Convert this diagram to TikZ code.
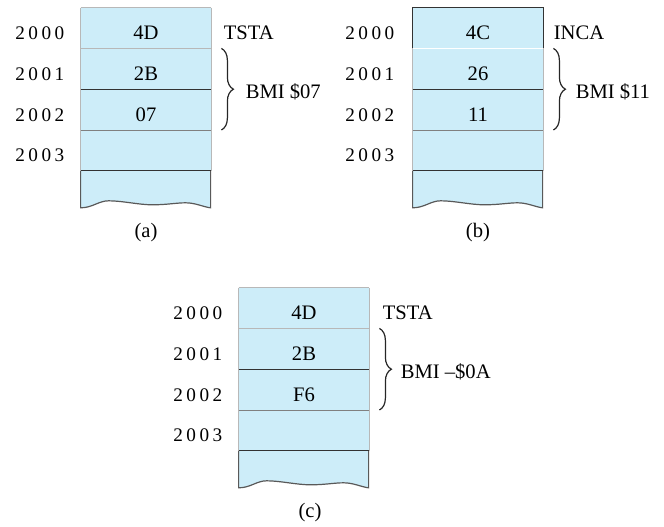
\documentclass[tikz,border=0pt]{standalone}
\usepackage{fontspec}
\setmainfont{Liberation Serif}
\newfontfamily\addrfont[LetterSpace=18]{Liberation Serif}
\usetikzlibrary{positioning,calc,decorations.pathreplacing}
\definecolor{memfill}{RGB}{205,237,249}

\begin{document}
\begin{tikzpicture}[
    x=0.5pt, y=-0.5pt,
    cell/.style={fill=memfill, minimum width=65pt, minimum height=20pt, inner sep=0pt,
                 font=\fontsize{10.3}{12}\selectfont, text height=11.5pt, text depth=0pt},
    addr/.style={inner sep=0pt, font=\addrfont\fontsize{9.6}{11}\selectfont,
                 text height=11.5pt, text depth=0pt},
    txt/.style={inner sep=0pt, font=\fontsize{10.3}{12}\selectfont,
                text height=11.5pt, text depth=0pt},
    faint/.style={draw=black!28, line width=0.5pt},
    mid/.style={draw=black!50, line width=0.5pt},
    dark/.style={draw=black!80, line width=0.6pt},
    brace/.style={draw=black!85, line width=0.6pt, decorate,
                  decoration={brace, amplitude=6pt}},
    memtail/.pic={
      \fill[memfill] (0,0) -- (0,37) .. controls (12,37) and (18,30) .. (28,30)
            .. controls (42,30) and (58,34) .. (72,34)
            .. controls (86,34) and (96,32) .. (105,32)
            .. controls (115,32) and (122,36) .. (130,37) -- (130,0) -- cycle;
      \draw[black!65, line width=0.6pt] (0,0) -- (0,37) .. controls (12,37) and (18,30) .. (28,30)
            .. controls (42,30) and (58,34) .. (72,34)
            .. controls (86,34) and (96,32) .. (105,32)
            .. controls (115,32) and (122,36) .. (130,37) -- (130,0);
    },
  ]
    \useasboundingbox (0,0) rectangle (664,526);

    % ---- (a) ----
    \node[cell] (a0) at (146,28) {4D};
    \node[cell, below=0pt of a0] (a1) {2B};
    \node[cell, below=0pt of a1] (a2) {07};
    \node[cell, below=0pt of a2] (a3) {};
    \pic at (a3.south west) {memtail};
    \draw[faint] (a0.north west) -- (a0.north east) (a0.south west) -- (a0.south east);
    \draw[faint] (a0.north west) -- (a3.south west) (a0.north east) -- (a3.south east);
    \draw[dark] (a1.south west) -- (a1.south east) (a3.south west) -- (a3.south east);
    \draw[mid] (a2.south west) -- (a2.south east);
    \node[addr, left=8pt of a0] (ad0) {2000};
    \node[addr, left=8pt of a1] (ad1) {2001};
    \node[addr, left=8pt of a2] (ad2) {2002};
    \node[addr, left=8pt of a3] (ad3) {2003};
    \node[txt, right=6pt of a0] (opa) {TSTA};
    \draw[brace] ([xshift=5pt]a1.north east) -- ([xshift=5pt]a2.south east);
    \node[txt, anchor=west] (bmia) at ([xshift=17pt, yshift=1.3pt]a1.south east) {BMI \$07};
    \node[txt] (capa) at ([yshift=-27.5pt]a3.south) {(a)};

    % ---- (b) ----
    \node[cell] (b0) at (478,28) {4C};
    \node[cell, below=0pt of b0] (b1) {26};
    \node[cell, below=0pt of b1] (b2) {11};
    \node[cell, below=0pt of b2] (b3) {};
    \pic at (b3.south west) {memtail};
    \draw[faint] (b0.south west) -- (b3.south west) (b0.south east) -- (b3.south east);
    \draw[dark] (b0.south west) -- (b0.north west) -- (b0.north east) -- (b0.south east);
    \draw[dark] (b1.south west) -- (b1.south east) (b3.south west) -- (b3.south east);
    \draw[mid] (b2.south west) -- (b2.south east);
    \node[addr, left=9pt of b0] (bd0) {2000};
    \node[addr, left=9pt of b1] (bd1) {2001};
    \node[addr, left=9pt of b2] (bd2) {2002};
    \node[addr, left=9pt of b3] (bd3) {2003};
    \node[txt, right=5pt of b0] (opb) {INCA};
    \draw[brace] ([xshift=5pt]b1.north east) -- ([xshift=5pt]b2.south east);
    \node[txt, anchor=west] (bmib) at ([xshift=16pt, yshift=1.3pt]b1.south east) {BMI \$11};
    \node[txt] (capb) at ([yshift=-27.5pt]b3.south) {(b)};

    % ---- (c) ----
    \node[cell] (c0) at (304,308) {4D};
    \node[cell, below=0pt of c0] (c1) {2B};
    \node[cell, below=0pt of c1] (c2) {F6};
    \node[cell, below=0pt of c2] (c3) {};
    \pic at (c3.south west) {memtail};
    \draw[faint] (c0.north west) -- (c0.north east) (c0.south west) -- (c0.south east);
    \draw[faint] (c0.north west) -- (c3.south west) (c0.north east) -- (c3.south east);
    \draw[dark] (c1.south west) -- (c1.south east) (c3.south west) -- (c3.south east);
    \draw[mid] (c2.south west) -- (c2.south east);
    \node[addr, left=8pt of c0] (cd0) {2000};
    \node[addr, left=8pt of c1] (cd1) {2001};
    \node[addr, left=8pt of c2] (cd2) {2002};
    \node[addr, left=8pt of c3] (cd3) {2003};
    \node[txt, right=6.5pt of c0] (opc) {TSTA};
    \draw[brace] ([xshift=5pt]c1.north east) -- ([xshift=5pt]c2.south east);
    \node[txt, anchor=west] (bmic) at ([xshift=15.5pt, yshift=1.3pt]c1.south east) {BMI --\$0A};
    \node[txt] (capc) at ([xshift=3pt, yshift=-27.5pt]c3.south) {(c)};
  \end{tikzpicture}
\end{document}
